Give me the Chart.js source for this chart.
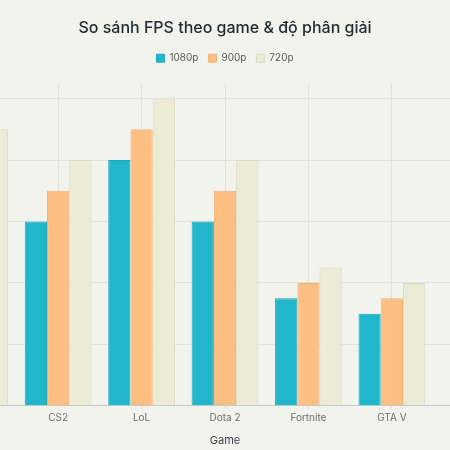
<!DOCTYPE html>
<html lang="vi">
<head>
<meta charset="utf-8">
<title>So sánh FPS</title>
<script src="https://cdn.jsdelivr.net/npm/chart.js@4.4.1/dist/chart.umd.min.js"></script>
<style>
    html, body { margin: 0; padding: 0; background: #f3f3ee; overflow: hidden; }
    .chart-wrap { position: relative; width: 584px; height: 450px; margin-left: -67px; }
</style>
</head>
<body>
<div class="chart-wrap"><canvas id="fpsChart"></canvas></div>
<script>
// Dữ liệu FPS theo game (ước lượng từ ảnh)
const games = ['Valorant', 'CS2', 'LoL', 'Dota 2', 'Fortnite', 'GTA V', 'Minecraft'];
const fps1080 = [140, 120, 160, 120, 70, 60, null];
const fps900 = [160, 140, 180, 140, 80, 70, null];
const fps720 = [180, 160, 200, 160, 90, 80, null];
const yTicks = { max: 210, step: 40 };

const FONT = "Inter, 'Noto Sans', sans-serif";

// thêm khoảng trống dưới legend
const legendGap = {
    id: 'legendGap',
    beforeInit(chart) {
        const origFit = chart.legend.fit;
        chart.legend.fit = function() {
            origFit.bind(chart.legend)();
            this.height += 10;
        };
    }
};

const ctx = document.getElementById('fpsChart').getContext('2d');
new Chart(ctx, {
    type: 'bar',
    data: {
        labels: games,
        datasets: [
            { label: '1080p', data: fps1080, backgroundColor: '#20b6cc', borderColor: '#1eaabd', borderWidth: 1 },
            { label: '900p', data: fps900, backgroundColor: '#ffbe82', borderColor: '#f2b075', borderWidth: 1 },
            { label: '720p', data: fps720, backgroundColor: '#ecebd6', borderColor: '#dcdbc3', borderWidth: 1 }
        ]
    },
    options: {
        responsive: true,
        maintainAspectRatio: false,
        animation: false,
        layout: { padding: { top: 0, bottom: 1, left: 0, right: 0 } },
        datasets: { bar: { barPercentage: 1, categoryPercentage: 0.8 } },
        plugins: {
            title: {
                display: true,
                text: 'So sánh FPS theo game & độ phân giải',
                color: '#1f2b30',
                font: { family: FONT, size: 16, weight: '500' },
                padding: { top: 19, bottom: 5 }
            },
            legend: {
                position: 'top',
                labels: {
                    boxWidth: 8, boxHeight: 8, padding: 10,
                    color: '#555a5c',
                    font: { family: FONT, size: 10 }
                }
            },
            tooltip: { enabled: true }
        },
        scales: {
            x: {
                offset: true,
                grid: { offset: false, color: '#e3e3dd', tickLength: 4 },
                border: { color: '#c4c8c8' },
                ticks: { color: '#6b6f70', padding: 2, font: { family: FONT, size: 10 } },
                title: {
                    display: true, text: 'Game', color: '#3a3f42',
                    font: { family: FONT, size: 11 },
                    padding: { top: 8, bottom: 2 }
                }
            },
            y: {
                beginAtZero: true,
                max: yTicks.max,
                grid: { color: '#e3e3dd', drawTicks: false },
                border: { display: false },
                ticks: { display: false, stepSize: yTicks.step, includeBounds: false }
            }
        }
    },
    plugins: [legendGap]
});
</script>
</body>
</html>
